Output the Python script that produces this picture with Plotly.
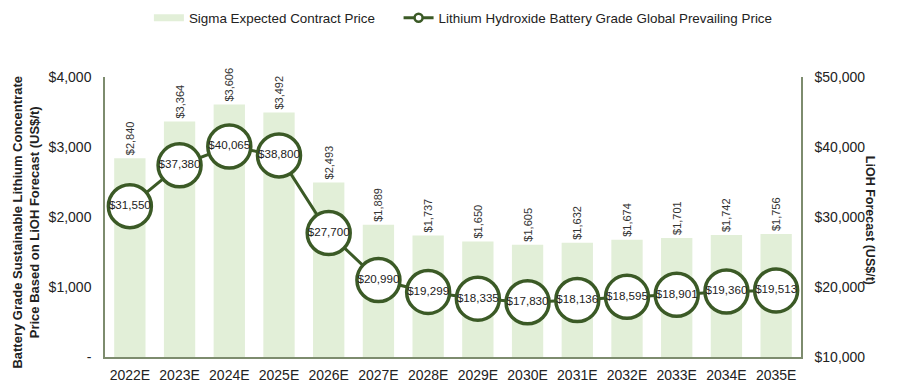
import plotly.graph_objects as go

years = ["2022E", "2023E", "2024E", "2025E", "2026E", "2027E", "2028E",
         "2029E", "2030E", "2031E", "2032E", "2033E", "2034E", "2035E"]
contract_price = [2840, 3364, 3606, 3492, 2493, 1889, 1737, 1650, 1605, 1632, 1674, 1701, 1742, 1756]
lioh_price = [31550, 37380, 40065, 38800, 27700, 20990, 19299, 18335, 17830, 18136, 18595, 18901, 19360, 19513]

left_ticks = [0, 1000, 2000, 3000, 4000]
left_ticktext = ["-", "$1,000", "$2,000", "$3,000", "$4,000"]
right_ticks = [10000, 20000, 30000, 40000, 50000]
right_ticktext = ["$10,000", "$20,000", "$30,000", "$40,000", "$50,000"]

BAR = "#e2efd8"
LINE = "#3b5a26"
AXIS = "#7d8c6e"
FONT = "Liberation Sans, Arial, sans-serif"
TXT = "#222222"

fig = go.Figure()
fig.add_trace(go.Bar(
    x=years, y=contract_price, name="Sigma Expected Contract Price",
    marker=dict(color=BAR, line=dict(width=0)),
    text=[f"${v:,}" for v in contract_price], textposition="outside",
    textangle=-90, constraintext="none",
    textfont=dict(size=11, color="#333333", family=FONT),
    cliponaxis=False, width=0.63, yaxis="y", showlegend=False,
))
fig.add_trace(go.Scatter(
    x=years, y=lioh_price, name="Lithium Hydroxide Battery Grade Global Prevailing Price",
    mode="lines+markers+text", yaxis="y2",
    line=dict(color=LINE, width=3),
    marker=dict(size=43, color="white", line=dict(color=LINE, width=3.5)),
    text=[f"${v:,}" for v in lioh_price], textposition="middle center",
    textfont=dict(size=11.6, color=TXT, family=FONT),
    cliponaxis=False, showlegend=False,
))
# legend-only entries (no data)
fig.add_trace(go.Scatter(
    x=[None], y=[None], mode="lines",
    name="Sigma Expected Contract Price&nbsp;&nbsp;&nbsp;&nbsp;&nbsp;",
    line=dict(color=BAR, width=7), showlegend=True,
))
fig.add_trace(go.Scatter(
    x=[None], y=[None], mode="lines+markers",
    name="Lithium Hydroxide Battery Grade Global Prevailing Price",
    line=dict(color=LINE, width=3),
    marker=dict(size=8, color="white", line=dict(color=LINE, width=2.5)),
    showlegend=True,
))

fig.update_layout(
    width=900, height=389,
    margin=dict(l=97, r=107, t=69, b=40),
    paper_bgcolor="white", plot_bgcolor="white",
    font=dict(family=FONT, size=13, color=TXT),
    showlegend=True,
    legend=dict(orientation="h", x=0.506, xanchor="center", xref="container",
                y=0.974, yanchor="middle", yref="container", itemwidth=30,
                font=dict(size=13.4, color=TXT), traceorder="normal", tracegroupgap=0),
    xaxis=dict(range=[-0.5, 13.5], showline=True, linecolor=AXIS, linewidth=1.5,
               ticks="", showgrid=False, automargin=False, ticklabelstandoff=4,
               tickfont=dict(size=14, color=TXT)),
    yaxis=dict(range=[0, 4000], tickvals=left_ticks, ticktext=left_ticktext,
               showline=True, linecolor=AXIS, linewidth=1.5, showgrid=False, zeroline=False,
               tickfont=dict(size=14, color=TXT), ticks="", ticklabelstandoff=9,
               automargin=False),
    yaxis2=dict(range=[10000, 50000], tickvals=right_ticks, ticktext=right_ticktext,
                overlaying="y", side="right", showline=True, linecolor=AXIS, linewidth=1.5,
                showgrid=False, zeroline=False, ticks="", ticklabelstandoff=9,
                automargin=False, tickfont=dict(size=14, color=TXT)),
    annotations=[
        dict(text="<b>Battery Grade Sustainable Lithium Concentrate<br>Price Based on LiOH Forecast (US$/t)</b>",
             xref="paper", yref="paper", x=0, xanchor="center", xshift=-79,
             y=0.48, yanchor="middle", textangle=-90,
             showarrow=False, font=dict(size=13, color=TXT)),
        dict(text="<b>LiOH Forecast (US$/t)</b>", xref="paper", yref="paper",
             x=1.0, xanchor="center", xshift=69, y=0.49, yanchor="middle",
             textangle=90, showarrow=False, font=dict(size=12.5, color=TXT)),
    ],
)

fig.write_html("out.html")
